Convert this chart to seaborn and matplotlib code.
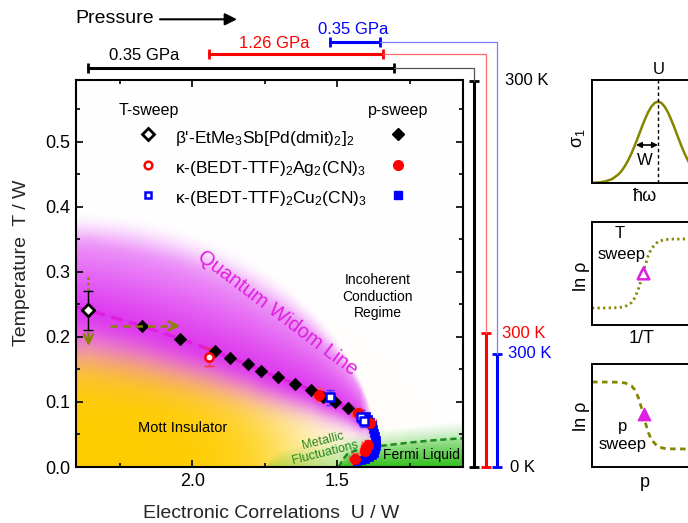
import numpy as np
import matplotlib
matplotlib.use("Agg")
import matplotlib.pyplot as plt
import seaborn as sns
from matplotlib.lines import Line2D
from matplotlib.transforms import blended_transform_factory

# ---------------- phase-diagram data (U/W , T/W) ----------------
# temperature sweeps (open symbols)
etme_t_U = [2.357]
etme_t_T = [0.241]
etme_t_Terr = [0.030]

ag_t_U = [1.943]
ag_t_T = [0.169]
ag_t_Terr = [0.014]

cu_t_U = [1.525, 1.418, 1.407]
cu_t_T = [0.107, 0.077, 0.071]
cu_t_Uerr = [0.012, 0.012, 0.012]
cu_t_Terr = [0.011, 0.010, 0.010]

# pressure sweeps (filled symbols)
etme_p_U = [2.173, 2.042, 1.922, 1.869, 1.807, 1.762, 1.704, 1.645, 1.591, 1.550, 1.507, 1.463]
etme_p_T = [0.217, 0.197, 0.178, 0.168, 0.158, 0.148, 0.138, 0.128, 0.119, 0.108, 0.100, 0.090]

ag_p_U = [1.564, 1.430, 1.387, 1.395, 1.400, 1.403, 1.440]
ag_p_T = [0.111, 0.083, 0.068, 0.034, 0.029, 0.024, 0.013]
ag_p_Uerr = [0.020, 0.020, 0.020, 0.020, 0.020, 0.020, 0.020]
ag_p_Terr = [0.010, 0.008, 0.008, 0.008, 0.008, 0.008, 0.008]

cu_p_U = [1.400, 1.393, 1.387, 1.382, 1.378, 1.374, 1.370, 1.367, 1.365, 1.366,
          1.369, 1.374, 1.382, 1.392, 1.404, 1.418, 1.432]
cu_p_T = [0.079, 0.074, 0.069, 0.064, 0.058, 0.052, 0.047, 0.042, 0.037, 0.032,
          0.027, 0.022, 0.018, 0.015, 0.012, 0.010, 0.009]

# Fermi-liquid crossover (dashed green)
fl_U = [1.495, 1.480, 1.465, 1.440, 1.400, 1.360, 1.300, 1.240, 1.170, 1.110, 1.067]
fl_T = [0.000, 0.012, 0.020, 0.025, 0.029, 0.032, 0.035, 0.038, 0.041, 0.043, 0.044]

# pressure ranges covered by each compound, and T/W of 300 K
press_labels = ["0.35 GPa", "1.26 GPa", "0.35 GPa"]
press_U_start = [2.357, 1.943, 1.525]
press_U_end = [1.305, 1.342, 1.353]
room_T = [0.594, 0.206, 0.174]
compound_colors = ["black", "red", "blue"]
link_colors = ["#555555", "#ff6a6a", "#7d7dff"]

compound_names = [r"β'-EtMe$_3$Sb[Pd(dmit)$_2$]$_2$",
                  r"κ-(BEDT-TTF)$_2$Ag$_2$(CN)$_3$",
                  r"κ-(BEDT-TTF)$_2$Cu$_2$(CN)$_3$"]

# schematic inset curves (axes units)
band_x = [0.0, 0.05, 0.10, 0.15, 0.20, 0.225, 0.25, 0.275, 0.30, 0.325, 0.35, 0.375, 0.40,
          0.425, 0.45, 0.475, 0.50, 0.525, 0.55, 0.575, 0.60, 0.625, 0.65, 0.675, 0.70,
          0.725, 0.75, 0.775, 0.80, 0.85, 0.90, 0.95, 1.0]
band_y = [0.002, 0.005, 0.015, 0.037, 0.083, 0.119, 0.166, 0.223, 0.290, 0.367, 0.450, 0.535,
          0.615, 0.687, 0.742, 0.778, 0.790, 0.778, 0.742, 0.687, 0.615, 0.535, 0.450, 0.367,
          0.290, 0.223, 0.166, 0.119, 0.083, 0.037, 0.015, 0.005, 0.002]

tsweep_x = [0.0, 0.10, 0.20, 0.25, 0.30, 0.325, 0.35, 0.375, 0.40, 0.425, 0.45, 0.50,
            0.55, 0.60, 0.70, 0.80, 0.90, 1.0]
tsweep_y = [0.165, 0.165, 0.168, 0.179, 0.218, 0.265, 0.342, 0.448, 0.566, 0.670, 0.742,
            0.810, 0.829, 0.834, 0.835, 0.835, 0.835, 0.835]

psweep_x = [0.0, 0.10, 0.20, 0.25, 0.30, 0.325, 0.35, 0.375, 0.40, 0.425, 0.45, 0.50,
            0.55, 0.60, 0.70, 0.80, 0.90, 1.0]
psweep_y = [0.825, 0.825, 0.823, 0.816, 0.787, 0.748, 0.678, 0.574, 0.450, 0.340, 0.264,
            0.196, 0.180, 0.176, 0.175, 0.175, 0.175, 0.175]

# ---------------- style ----------------
sns.set_theme(style="ticks")
plt.rcParams["font.family"] = ["Liberation Sans", "DejaVu Sans"]
plt.rcParams["mathtext.fontset"] = "custom"
plt.rcParams["mathtext.rm"] = "Liberation Sans"
plt.rcParams["mathtext.it"] = "Liberation Sans:italic"
plt.rcParams["mathtext.bf"] = "Liberation Sans:bold"
plt.rcParams["mathtext.default"] = "regular"
plt.rcParams["axes.edgecolor"] = "black"
plt.rcParams["text.color"] = "black"
plt.rcParams["xtick.color"] = "black"
plt.rcParams["ytick.color"] = "black"

MAGENTA = "#e01ee0"
OLIVE = "#858500"
FW, FH = 688, 523


def fx(px):
    return px / FW


def fy(py):
    return 1 - py / FH


fig = plt.figure(figsize=(FW / 100, FH / 100), dpi=100)
fig.patch.set_facecolor("white")

U_MAX, U_MIN, T_MAX = 2.4, 1.067, 0.595
ax = fig.add_axes([fx(76), fy(467), (463 - 76) / FW, (467 - 80) / FH])

# ---------------- shaded regimes ----------------
nx, ny = 500, 500
Ug = np.linspace(U_MAX, U_MIN, nx)
Tg = np.linspace(0, T_MAX, ny)
UU, TT = np.meshgrid(Ug, Tg)

wl_U = np.array(etme_t_U + etme_p_U + [1.40, 1.37])
wl_T = np.array(etme_t_T + etme_p_T + [0.070, 0.030])
order = np.argsort(wl_U)
Tw = np.interp(UU, wl_U[order], wl_T[order])


def smoothstep(v):
    v = np.clip(v, 0, 1)
    return v * v * (3 - 2 * v)


# Mott insulator (gold)
s_y = np.sqrt(((U_MAX - UU) / 0.88) ** 2 + (TT / 0.22) ** 2)
a_y = 1.0 / (1.0 + np.exp((s_y - 0.85) / 0.11))

# quantum Widom band (magenta), soft outer edge
Te = 0.40 * np.sqrt(np.clip(1 - ((U_MAX - UU) / 1.045) ** 2, 0, None))
f_up = np.clip((Te - TT) / np.maximum(Te - Tw, 1e-3), 0, 1)
frac_up = f_up ** 0.6 * smoothstep(f_up / 0.4)
frac_up = np.where(Te > Tw, frac_up, 0.0)
w_below = 0.07 * Tw / 0.24
frac_dn = np.exp(-((Tw - TT) / w_below) ** 2)
a_m = np.where(TT >= Tw, frac_up, frac_dn)
a_m = 0.93 * a_m * np.clip((UU - 1.36) / 0.06, 0, 1)

# Fermi liquid (green): strong below the crossover line, pale above it
T_out = 0.07 * np.clip((1.74 - UU) / 0.67, 0, None) ** 0.4
Tfl = np.interp(UU, fl_U[::-1], fl_T[::-1], left=0.0, right=0.0)
up_g = 0.32 * np.clip(1 - (TT - Tfl) / np.maximum(T_out - Tfl, 1e-4), 0, 1)
dn_g = 0.40 + 0.55 * np.clip(1 - TT / np.maximum(Tfl, 1e-4), 0, 1) ** 0.8
a_g = np.where(TT >= Tfl, up_g, dn_g)
a_g = np.where(T_out > 0, a_g, 0.0)

rgb = np.ones((ny, nx, 3))
for col, a in (((1.0, 0.80, 0.0), a_y), ((0.16, 0.74, 0.08), a_g), ((0.86, 0.17, 0.95), a_m)):
    rgb = rgb * (1 - a[..., None]) + np.array(col) * a[..., None]

ax.imshow(rgb, extent=[U_MAX, U_MIN, 0, T_MAX], origin="lower", aspect="auto",
          interpolation="bilinear", zorder=0)

# ---------------- lines ----------------
sns.lineplot(x=[U_MAX] + etme_t_U + etme_p_U, y=[0.246] + etme_t_T + etme_p_T, sort=False,
             estimator=None, color=MAGENTA, lw=2.4, ax=ax, zorder=2)
ax.lines[-1].set_dashes((3.5, 2.0))
sns.lineplot(x=fl_U, y=fl_T, sort=False, estimator=None, color="#1f8a1f", lw=1.8,
             ax=ax, zorder=2)
ax.lines[-1].set_dashes((2.5, 1.5))

# sweep arrows
ax.plot([2.283, 2.052], [0.217, 0.217], color=OLIVE, lw=1.8, dashes=(3, 2), zorder=6)
ax.annotate("", xy=(2.042, 0.217), xytext=(2.07, 0.217),
            arrowprops=dict(arrowstyle="->", color=OLIVE, lw=1.8, mutation_scale=16,
                            shrinkA=0, shrinkB=0), zorder=6)
ax.plot([2.357, 2.357], [0.292, 0.196], color=OLIVE, lw=1.8, dashes=(1, 1.2), zorder=6)
ax.annotate("", xy=(2.357, 0.186), xytext=(2.357, 0.205),
            arrowprops=dict(arrowstyle="->", color=OLIVE, lw=1.8, mutation_scale=16,
                            shrinkA=0, shrinkB=0), zorder=6)

# ---------------- symbols ----------------
ax.errorbar(ag_p_U, ag_p_T, xerr=ag_p_Uerr, yerr=ag_p_Terr, fmt="none", ecolor="#ff4a4a",
            elinewidth=1, capsize=3, zorder=3)
ax.errorbar(cu_t_U, cu_t_T, xerr=cu_t_Uerr, yerr=cu_t_Terr, fmt="none", ecolor="#3a3aff",
            elinewidth=1, capsize=3, zorder=3)
ax.errorbar(ag_t_U, ag_t_T, yerr=ag_t_Terr, fmt="none", ecolor="#ff3030",
            elinewidth=1, capsize=3.5, zorder=3)
ax.errorbar(etme_t_U, etme_t_T, yerr=etme_t_Terr, fmt="none", ecolor="black",
            elinewidth=1, capsize=3.5, zorder=7)

sns.scatterplot(x=etme_p_U, y=etme_p_T, marker="D", s=40, color="black", edgecolor="black",
                linewidth=0.5, ax=ax, zorder=4, legend=False)
sns.scatterplot(x=cu_p_U, y=cu_p_T, marker="s", s=36, color="blue", edgecolor="blue",
                linewidth=0.5, ax=ax, zorder=4, legend=False)
sns.scatterplot(x=ag_p_U, y=ag_p_T, marker="o", s=55, color="red", edgecolor="red",
                linewidth=0.5, ax=ax, zorder=5, legend=False)
sns.scatterplot(x=cu_t_U, y=cu_t_T, marker="s", s=30, color="white", edgecolor="blue",
                linewidth=1.8, ax=ax, zorder=6, legend=False)
sns.scatterplot(x=ag_t_U, y=ag_t_T, marker="o", s=36, color="white", edgecolor="red",
                linewidth=1.8, ax=ax, zorder=6, legend=False)
sns.scatterplot(x=etme_t_U, y=etme_t_T, marker="D", s=40, color="white", edgecolor="black",
                linewidth=2.0, ax=ax, zorder=8, legend=False)

# ---------------- region labels ----------------
ax.text(1.706, 0.236, "Quantum Widom Line", rotation=-37, rotation_mode="anchor",
        ha="center", va="center", color=MAGENTA, fontsize=14.5, zorder=3)
ax.text(1.361, 0.262, "Incoherent\nConduction\nRegime", ha="center", va="center",
        fontsize=10, linespacing=1.25, zorder=3)
ax.text(2.033, 0.0595, "Mott Insulator", ha="center", va="center", fontsize=10.5, zorder=3)
ax.text(1.545, 0.031, "Metallic\nFluctuations", ha="center", va="center", rotation=14,
        rotation_mode="anchor", color="#23881a", fontsize=9, linespacing=1.0, zorder=3)
ax.text(1.211, 0.0185, "Fermi Liquid", ha="center", va="center", fontsize=10, zorder=3)

# ---------------- legend ----------------
open_h = [Line2D([], [], ls="none", marker="D", ms=6.0, mfc="white", mec="black", mew=2.0),
          Line2D([], [], ls="none", marker="o", ms=5.5, mfc="white", mec="red", mew=1.8),
          Line2D([], [], ls="none", marker="s", ms=5.0, mfc="white", mec="blue", mew=1.8)]
filled_h = [Line2D([], [], ls="none", marker="D", ms=6.0, mfc="black", mec="black"),
            Line2D([], [], ls="none", marker="o", ms=7.0, mfc="red", mec="red"),
            Line2D([], [], ls="none", marker="s", ms=6.0, mfc="blue", mec="blue")]
leg_kw = dict(loc="upper left", frameon=False, fontsize=12.5, handlelength=1.0,
              handleheight=1.55, handletextpad=1.05, labelspacing=0.5, borderpad=0,
              borderaxespad=0)
leg_top = (467 - 126.0) / 387
leg1 = ax.legend(open_h, compound_names, bbox_to_anchor=((139.3 - 76) / 387, leg_top),
                 **leg_kw)
ax.add_artist(leg1)
leg2 = ax.legend(filled_h, ["", "", ""], bbox_to_anchor=((389.3 - 76) / 387, leg_top),
                 **leg_kw)
ax.text((119 - 76) / 387, (467 - 110.7) / 387, "T-sweep", transform=ax.transAxes,
        ha="left", va="center", fontsize=11.5)
ax.text((398 - 76) / 387, (467 - 110.7) / 387, "p-sweep", transform=ax.transAxes,
        ha="center", va="center", fontsize=11.5)

# ---------------- axes cosmetics ----------------
ax.set_xlim(U_MAX, U_MIN)
ax.set_ylim(0, T_MAX)
ax.set_xticks([2.0, 1.5])
ax.set_xticks([2.25, 1.75, 1.25], minor=True)
ax.set_yticks([0.0, 0.1, 0.2, 0.3, 0.4, 0.5])
ax.set_yticks([0.05, 0.15, 0.25, 0.35, 0.45, 0.55], minor=True)
ax.set_xticklabels(["2.0", "1.5"])
ax.set_yticklabels(["0.0", "0.1", "0.2", "0.3", "0.4", "0.5"])
ax.tick_params(which="both", direction="in", top=True, right=True, width=1.2,
               labelsize=13, pad=4)
ax.tick_params(which="major", length=5)
ax.tick_params(which="minor", length=3)
for sp in ax.spines.values():
    sp.set_linewidth(1.5)
    sp.set_color("black")
ax.set_xlabel("Electronic Correlations  U / W", fontsize=14)
ax.set_ylabel("Temperature  T / W", fontsize=14)
ax.xaxis.set_label_coords(0.504, -0.098)
ax.yaxis.set_label_coords(-0.12, 0.527)

# ---------------- pressure and temperature ranges ----------------
tr_xd = blended_transform_factory(ax.transData, fig.transFigure)
tr_yd = blended_transform_factory(fig.transFigure, ax.transData)
bar_y_px = [68, 54, 42]
vbar_x_px = [474.5, 485.5, 497]
label_pos_px = [(144, 55), (274, 43), (353, 30)]
T_label_x_px = [505, 502, 508]

for i in range(3):
    c = compound_colors[i]
    ax.plot([press_U_start[i], press_U_end[i]], [fy(bar_y_px[i])] * 2, transform=tr_xd,
            color=c, lw=2.2, marker="|", ms=7, mew=2, clip_on=False, zorder=10)
    fig.text(fx(label_pos_px[i][0]), fy(label_pos_px[i][1]), press_labels[i], color=c,
             ha="center", va="center", fontsize=12)
    ax.plot([fx(vbar_x_px[i])] * 2, [0, room_T[i]], transform=tr_yd, color=c, lw=2.2,
            marker="_", ms=7, mew=2, clip_on=False, zorder=10)
    ax.text(fx(T_label_x_px[i]), room_T[i], "300 K", transform=tr_yd, color=c,
            ha="left", va="center", fontsize=12)
    # thin link from the pressure range to its temperature scale
    x_end = ax.transData.transform((press_U_end[i], 0))[0] / fig.bbox.width
    y_top = ax.transData.transform((0, room_T[i]))[1] / fig.bbox.height
    fig.add_artist(Line2D([x_end, fx(vbar_x_px[i]), fx(vbar_x_px[i])],
                          [fy(bar_y_px[i]), fy(bar_y_px[i]), y_top],
                          transform=fig.transFigure, color=link_colors[i], lw=0.9,
                          zorder=1))
ax.text(fx(510.5), 0.0, "0 K", transform=tr_yd, ha="left", va="center", fontsize=12)

fig.text(fx(75), fy(18.5), "Pressure", ha="left", va="center", fontsize=14)
ax.annotate("", xy=(fx(237), fy(19.3)), xytext=(fx(160), fy(19.3)),
            xycoords="figure fraction", textcoords="figure fraction",
            arrowprops=dict(arrowstyle="-|>", color="black", lw=1.5, mutation_scale=18,
                            shrinkA=0, shrinkB=0))

# ---------------- schematic insets ----------------
def inset(top_px):
    a = fig.add_axes([fx(592), fy(top_px + 103), 132 / FW, 103 / FH])
    a.set_xlim(0, 1)
    a.set_ylim(0, 1)
    a.set_xticks([])
    a.set_yticks([])
    a.set_facecolor("white")
    for sp in a.spines.values():
        sp.set_linewidth(1.4)
        sp.set_color("black")
    return a


ax1 = inset(80)
sns.lineplot(x=band_x, y=band_y, sort=False, estimator=None, color=OLIVE, lw=1.8, ax=ax1)
ax1.axvline(0.5, color="black", lw=1.0, dashes=(2.5, 2))
ax1.annotate("", xy=(0.333, 0.369), xytext=(0.5, 0.369),
             arrowprops=dict(arrowstyle="<|-|>", color="black", lw=1.2, mutation_scale=8,
                             shrinkA=0, shrinkB=0))
ax1.text(0.40, 0.22, "W", ha="center", va="center", fontsize=12)
ax1.text(0.502, 1.1, "U", ha="center", va="center", fontsize=12, clip_on=False)
ax1.text(-0.106, 0.437, r"σ$_1$", rotation=90, ha="center", va="center", fontsize=13)
ax1.text(0.40, -0.133, "ħω", ha="center", va="center", fontsize=13)

ax2 = inset(222)
sns.lineplot(x=tsweep_x, y=tsweep_y, sort=False, estimator=None, color=OLIVE, lw=2.0, ax=ax2)
ax2.lines[-1].set_dashes((0.8, 1.2))
sns.scatterplot(x=[0.386], y=[0.505], marker="^", s=70, color="white", edgecolor=MAGENTA,
                linewidth=1.8, ax=ax2, zorder=5, legend=False)
ax2.text(0.212, 0.89, "T", ha="center", va="center", fontsize=12)
ax2.text(0.225, 0.686, "sweep", ha="center", va="center", fontsize=12)
ax2.text(-0.078, 0.469, "ln ρ", rotation=90, ha="center", va="center", fontsize=13)
ax2.text(0.377, -0.129, "1/T", ha="center", va="center", fontsize=13)

ax3 = inset(364)
sns.lineplot(x=psweep_x, y=psweep_y, sort=False, estimator=None, color=OLIVE, lw=2.0, ax=ax3)
ax3.lines[-1].set_dashes((2.0, 1.6))
sns.scatterplot(x=[0.396], y=[0.51], marker="^", s=80, color=MAGENTA, edgecolor=MAGENTA,
                linewidth=1.0, ax=ax3, zorder=5, legend=False)
ax3.text(0.232, 0.398, "p", ha="center", va="center", fontsize=12)
ax3.text(0.232, 0.214, "sweep", ha="center", va="center", fontsize=12)
ax3.text(-0.078, 0.488, "ln ρ", rotation=90, ha="center", va="center", fontsize=13)
ax3.text(0.40, -0.152, "p", ha="center", va="center", fontsize=13)

fig.savefig("out.png", dpi=100)
